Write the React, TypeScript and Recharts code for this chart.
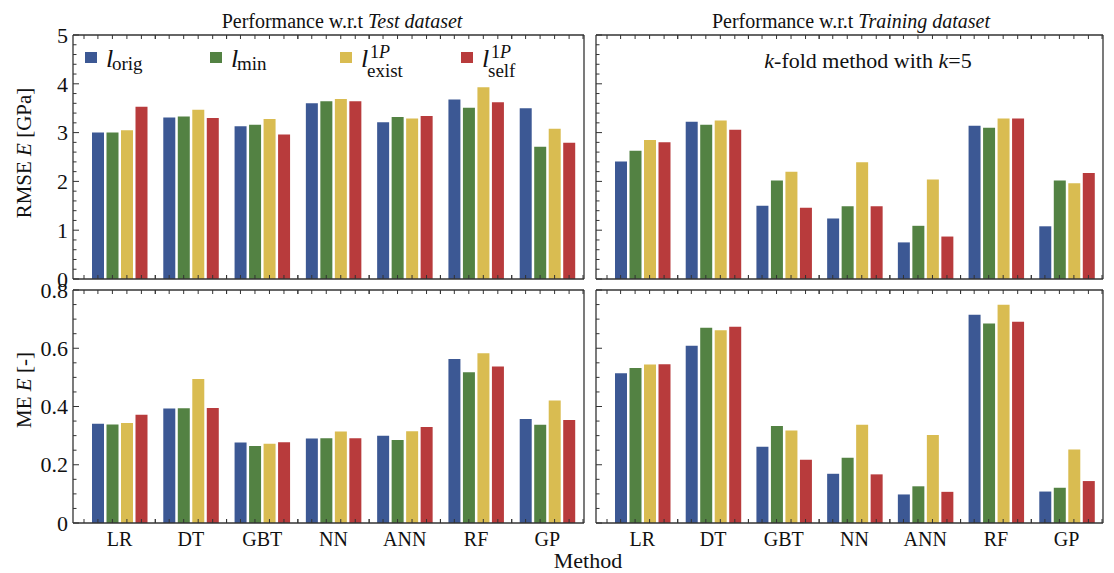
import React from "react";
import { BarChart, Bar, XAxis, YAxis } from "recharts";

const methods = ["LR", "DT", "GBT", "NN", "ANN", "RF", "GP"];

// RMSE, test dataset
const rmseTestOrig = [3.0, 3.31, 3.13, 3.6, 3.21, 3.68, 3.5];
const rmseTestMin = [3.0, 3.33, 3.16, 3.64, 3.32, 3.51, 2.71];
const rmseTestExist = [3.05, 3.47, 3.28, 3.69, 3.29, 3.93, 3.08];
const rmseTestSelf = [3.53, 3.3, 2.96, 3.64, 3.34, 3.62, 2.79];

// RMSE, training dataset (k-fold)
const rmseTrainOrig = [2.41, 3.22, 1.5, 1.24, 0.75, 3.14, 1.08];
const rmseTrainMin = [2.63, 3.16, 2.02, 1.49, 1.09, 3.1, 2.02];
const rmseTrainExist = [2.85, 3.25, 2.2, 2.39, 2.04, 3.29, 1.96];
const rmseTrainSelf = [2.8, 3.06, 1.46, 1.49, 0.87, 3.29, 2.17];

// ME, test dataset
const meTestOrig = [0.341, 0.393, 0.276, 0.29, 0.3, 0.563, 0.357];
const meTestMin = [0.338, 0.394, 0.264, 0.291, 0.285, 0.518, 0.337];
const meTestExist = [0.343, 0.494, 0.272, 0.314, 0.315, 0.583, 0.421];
const meTestSelf = [0.372, 0.395, 0.277, 0.291, 0.33, 0.537, 0.354];

// ME, training dataset
const meTrainOrig = [0.514, 0.609, 0.262, 0.169, 0.098, 0.715, 0.108];
const meTrainMin = [0.532, 0.67, 0.333, 0.224, 0.126, 0.685, 0.121];
const meTrainExist = [0.544, 0.662, 0.318, 0.337, 0.302, 0.749, 0.252];
const meTrainSelf = [0.545, 0.674, 0.217, 0.167, 0.107, 0.691, 0.144];

const rmseMajor = [0, 1, 2, 3, 4, 5];
const rmseMinor = [0.2, 0.4, 0.6, 0.8, 1.2, 1.4, 1.6, 1.8, 2.2, 2.4, 2.6, 2.8, 3.2, 3.4, 3.6, 3.8, 4.2, 4.4, 4.6, 4.8];
const meMajor = [0, 0.2, 0.4, 0.6, 0.8];
const meMinor = [0.05, 0.1, 0.15, 0.25, 0.3, 0.35, 0.45, 0.5, 0.55, 0.65, 0.7, 0.75];

const series = [
  { key: "orig", color: "#3c5894", sub: "orig", sup: "" },
  { key: "min", color: "#538243", sub: "min", sup: "" },
  { key: "exist", color: "#d9bc51", sub: "exist", sup: "1P" },
  { key: "self", color: "#b83b3c", sub: "self", sup: "1P" },
];

const rows = (a: number[], b: number[], c: number[], d: number[]) =>
  methods.map((m, i) => ({ name: m, orig: a[i], min: b[i], exist: c[i], self: d[i] }));

const rmseTest = rows(rmseTestOrig, rmseTestMin, rmseTestExist, rmseTestSelf);
const rmseTrain = rows(rmseTrainOrig, rmseTrainMin, rmseTrainExist, rmseTrainSelf);
const meTest = rows(meTestOrig, meTestMin, meTestExist, meTestSelf);
const meTrain = rows(meTrainOrig, meTrainMin, meTrainExist, meTrainSelf);

const FONT = "'Liberation Serif', 'DejaVu Serif', serif";
const FRAME = "#333";
const BAR_SIZE = 12;
const BAR_GAP = 2.5;
const txt = { fontFamily: FONT };

const xTick = (dir: number, showLabel: boolean) => (props: any) => {
  const { x, y, payload } = props;
  const half = payload && payload.offset ? payload.offset : 35.5;
  const step = BAR_SIZE + BAR_GAP;
  const marks = [-1.5, -0.5, 0.5, 1.5].map((k) => x + k * step);
  marks.push(x - half, x + half);
  return (
    <g>
      {marks.map((mx, i) => (
        <line key={i} x1={mx} x2={mx} y1={y} y2={y + dir * 4} stroke={FRAME} strokeWidth={1} />
      ))}
      {showLabel && (
        <text x={x} y={y + 23} textAnchor="middle" style={txt} fontSize={20} fill="#111">
          {payload.value}
        </text>
      )}
    </g>
  );
};

const yTick = (dir: number, major: number[], showLabel: boolean) => (props: any) => {
  const { x, y, payload } = props;
  const isMajor = major.includes(payload.value);
  return (
    <g>
      <line x1={x} x2={x + dir * (isMajor ? 6 : 3.5)} y1={y} y2={y} stroke={FRAME} strokeWidth={1} />
      {showLabel && isMajor && (
        <text x={x - 5} y={y} dy="0.35em" textAnchor="end" style={txt} fontSize={22} fill="#111">
          {String(payload.value)}
        </text>
      )}
    </g>
  );
};

type PanelProps = {
  left: number;
  top: number;
  width: number;
  height: number;
  data: any[];
  domain: [number, number];
  major: number[];
  minor: number[];
  yLabels: boolean;
  xLabels: boolean;
};

function Panel(p: PanelProps) {
  const ML = 70, MT = 40, MR = 20, MB = 40;
  const ticks = [...p.major, ...p.minor].sort((a, b) => a - b);
  return (
    <div style={{ position: "absolute", left: p.left - ML, top: p.top - MT }}>
      <BarChart
        width={p.width + ML + MR}
        height={p.height + MT + MB}
        data={p.data}
        margin={{ top: MT - 1, right: MR - 1, bottom: MB - 1, left: 0 }}
        barSize={BAR_SIZE}
        barGap={BAR_GAP}
      >
        {series.map((s) => (
          <Bar key={s.key} dataKey={s.key} xAxisId="b" yAxisId="l" fill={s.color} isAnimationActive={false} />
        ))}
        <XAxis
          xAxisId="b"
          dataKey="name"
          orientation="bottom"
          height={1}
          padding={{ left: 11, right: 1 }}
          interval={0}
          tickSize={0}
          tickMargin={0}
          tickLine={false}
          axisLine={{ stroke: FRAME, strokeWidth: 1.3 }}
          tick={xTick(-1, p.xLabels)}
        />
        <XAxis
          xAxisId="t"
          dataKey="name"
          orientation="top"
          height={1}
          padding={{ left: 11, right: 1 }}
          interval={0}
          tickSize={0}
          tickMargin={0}
          tickLine={false}
          axisLine={{ stroke: FRAME, strokeWidth: 1.3 }}
          tick={xTick(1, false)}
        />
        <YAxis
          yAxisId="l"
          type="number"
          domain={p.domain}
          ticks={ticks}
          interval={0}
          width={ML}
          tickSize={0}
          tickMargin={0}
          tickLine={false}
          axisLine={{ stroke: FRAME, strokeWidth: 1.3 }}
          tick={yTick(1, p.major, p.yLabels)}
        />
        <YAxis
          yAxisId="r"
          orientation="right"
          type="number"
          domain={p.domain}
          ticks={ticks}
          interval={0}
          width={1}
          tickSize={0}
          tickMargin={0}
          tickLine={false}
          axisLine={{ stroke: FRAME, strokeWidth: 1.3 }}
          tick={yTick(-1, p.major, false)}
        />
      </BarChart>
    </div>
  );
}

const legendX = [85, 210, 340, 461];

function Overlay() {
  return (
    <svg
      width={1114}
      height={573}
      style={{ position: "absolute", left: 0, top: 0, pointerEvents: "none", fontFamily: FONT }}
      fill="#111"
    >
      <text x={342} y={28} textAnchor="middle" fontSize={20} style={txt}>
        Performance w.r.t <tspan fontStyle="italic">Test dataset</tspan>
      </text>
      <text x={851} y={28} textAnchor="middle" fontSize={20} style={txt}>
        Performance w.r.t <tspan fontStyle="italic">Training dataset</tspan>
      </text>
      <text x={868} y={68} textAnchor="middle" fontSize={22} style={txt}>
        <tspan fontStyle="italic">k</tspan>-fold method with <tspan fontStyle="italic">k</tspan>=5
      </text>
      <text x={24} y={153} transform="rotate(-90 24 153)" textAnchor="middle" dy="0.35em" fontSize={21} style={txt}>
        RMSE <tspan fontStyle="italic">E</tspan> [GPa]
      </text>
      <text x={24} y={390} transform="rotate(-90 24 390)" textAnchor="middle" dy="0.35em" fontSize={21} style={txt}>
        ME <tspan fontStyle="italic">E</tspan> [-]
      </text>
      <text x={588} y={568} textAnchor="middle" fontSize={22} style={txt}>
        Method
      </text>
      {series.map((s, i) => {
        const x0 = legendX[i];
        return (
          <g key={s.key}>
            <rect x={x0} y={52} width={12} height={11} fill={s.color} />
            <text x={x0 + 21} y={67} fontSize={26} fontStyle="italic" style={txt}>
              l
            </text>
            {s.sup && (
              <text x={x0 + 30} y={58} fontSize={18} style={txt}>
                1<tspan fontStyle="italic">P</tspan>
              </text>
            )}
            <text x={x0 + 27} y={s.sup ? 77 : 70} fontSize={19} style={txt}>
              {s.sub}
            </text>
          </g>
        );
      })}
    </svg>
  );
}

export default function App() {
  return (
    <div style={{ position: "absolute", left: 0, top: 0, width: 1114, height: 573, background: "#fff" }}>
      <Panel left={73} top={35} width={511} height={244} data={rmseTest} domain={[0, 5]} major={rmseMajor} minor={rmseMinor} yLabels xLabels={false} />
      <Panel left={596} top={35} width={507} height={244} data={rmseTrain} domain={[0, 5]} major={rmseMajor} minor={rmseMinor} yLabels={false} xLabels={false} />
      <Panel left={73} top={290} width={511} height={233} data={meTest} domain={[0, 0.8]} major={meMajor} minor={meMinor} yLabels xLabels />
      <Panel left={596} top={290} width={507} height={233} data={meTrain} domain={[0, 0.8]} major={meMajor} minor={meMinor} yLabels={false} xLabels />
      <Overlay />
    </div>
  );
}
